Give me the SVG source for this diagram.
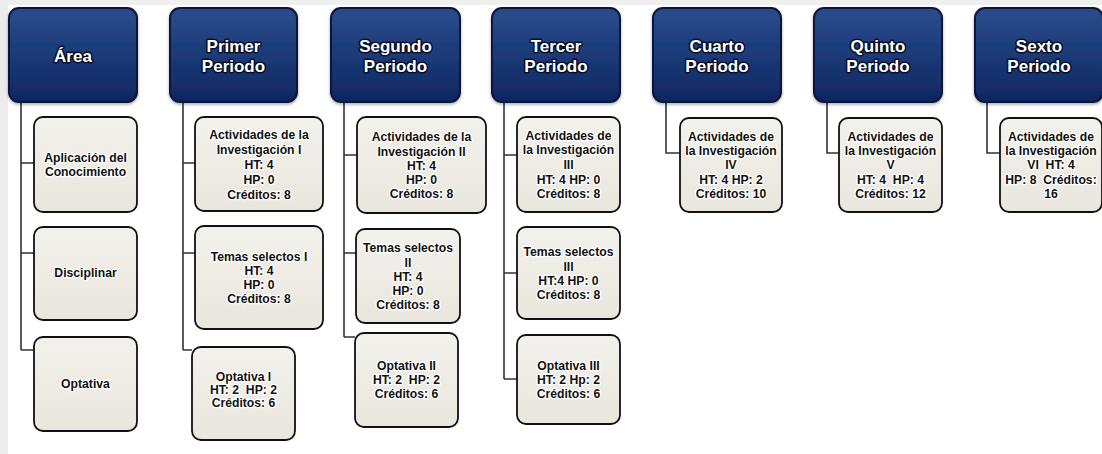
<svg xmlns="http://www.w3.org/2000/svg" width="1102" height="454" viewBox="0 0 1102 454">
<defs>
<linearGradient id="hg" x1="0" y1="0" x2="0" y2="1">
<stop offset="0" stop-color="#2b4c8c"/>
<stop offset="0.5" stop-color="#1b3a78"/>
<stop offset="1" stop-color="#0f2661"/>
</linearGradient>
<linearGradient id="cg" x1="0" y1="0" x2="0" y2="1">
<stop offset="0" stop-color="#f3f1ec"/>
<stop offset="1" stop-color="#e9e6dd"/>
</linearGradient>
<filter id="sh" x="-10%" y="-10%" width="120%" height="125%">
<feDropShadow dx="0" dy="1.5" stdDeviation="1.5" flood-color="#000" flood-opacity="0.35"/>
</filter>
</defs>
<style>
.hd{fill:url(#hg);stroke:#0a1838;stroke-width:2}
.ch{fill:url(#cg);stroke:#111;stroke-width:1.8}
.ht{font-family:"Liberation Sans",Arial,sans-serif;font-weight:bold;font-size:17px;fill:#fff;stroke:#050f28;stroke-width:3;stroke-linejoin:round;paint-order:stroke;text-anchor:middle}
.ct{font-family:"Liberation Sans",Arial,sans-serif;font-weight:bold;font-size:12.2px;fill:#111;stroke:#fff;stroke-width:2.6;stroke-linejoin:round;paint-order:stroke;text-anchor:middle;white-space:pre}
.cn{fill:none;stroke:#333;stroke-width:1.6}
</style>
<rect x="0" y="0" width="1102" height="454" fill="#ffffff"/>
<rect x="0" y="0" width="1102" height="5" fill="#efefef"/>
<rect x="0" y="0" width="8" height="454" fill="#ececec"/>

<g id="connectors">
<path class="cn" d="M21 102V350M21 163H34M21 253H34M21 350H34"/>
<path class="cn" d="M183 102V350M183 163H195M183 253H195M183 350H192"/>
<path class="cn" d="M344 102V337M344 155H357M344 253H356M344 337H355"/>
<path class="cn" d="M504 102V379M504 155H517M504 273H517M504 379H517"/>
<path class="cn" d="M666 102V153H680"/>
<path class="cn" d="M827 102V153H839"/>
<path class="cn" d="M987 102V153H1000"/>
</g>

<g id="h-area"><rect class="hd" filter="url(#sh)" x="9" y="8" width="128" height="94" rx="10"/><text class="ht" x="73" y="62">Área</text></g>
<g id="h-primer"><rect class="hd" filter="url(#sh)" x="170" y="8" width="127" height="94" rx="10"/><text class="ht" x="233.5" y="52">Primer</text><text class="ht" x="233.5" y="72">Periodo</text></g>
<g id="h-segundo"><rect class="hd" filter="url(#sh)" x="331" y="8" width="129" height="94" rx="10"/><text class="ht" x="395.5" y="52">Segundo</text><text class="ht" x="395.5" y="72">Periodo</text></g>
<g id="h-tercer"><rect class="hd" filter="url(#sh)" x="492" y="8" width="128" height="94" rx="10"/><text class="ht" x="556" y="52">Tercer</text><text class="ht" x="556" y="72">Periodo</text></g>
<g id="h-cuarto"><rect class="hd" filter="url(#sh)" x="653" y="8" width="128" height="94" rx="10"/><text class="ht" x="717" y="52">Cuarto</text><text class="ht" x="717" y="72">Periodo</text></g>
<g id="h-quinto"><rect class="hd" filter="url(#sh)" x="814" y="8" width="128" height="94" rx="10"/><text class="ht" x="878" y="52">Quinto</text><text class="ht" x="878" y="72">Periodo</text></g>
<g id="h-sexto"><rect class="hd" filter="url(#sh)" x="975" y="8" width="128" height="94" rx="10"/><text class="ht" x="1039" y="52">Sexto</text><text class="ht" x="1039" y="72">Periodo</text></g>

<g id="a1"><rect class="ch" x="34" y="117" width="103" height="95" rx="9"/><text class="ct" x="85.5" y="162">Aplicación del</text><text class="ct" x="85.5" y="176">Conocimiento</text></g>
<g id="a2"><rect class="ch" x="34" y="227" width="103" height="93" rx="9"/><text class="ct" x="85.5" y="277">Disciplinar</text></g>
<g id="a3"><rect class="ch" x="34" y="337" width="103" height="94" rx="9"/><text class="ct" x="85.5" y="388">Optativa</text></g>

<g id="p1a"><rect class="ch" x="195" y="117" width="128" height="94" rx="9"/><text class="ct" x="259" y="139">Actividades de la</text><text class="ct" x="259" y="154">Investigación I</text><text class="ct" x="259" y="169">HT: 4</text><text class="ct" x="259" y="184">HP: 0</text><text class="ct" x="259" y="199">Créditos: 8</text></g>
<g id="p1b"><rect class="ch" x="195" y="226" width="128" height="103" rx="9"/><text class="ct" x="259" y="261">Temas selectos I</text><text class="ct" x="259" y="275">HT: 4</text><text class="ct" x="259" y="289">HP: 0</text><text class="ct" x="259" y="303">Créditos: 8</text></g>
<g id="p1c"><rect class="ch" x="192" y="347" width="103" height="93" rx="9"/><text class="ct" x="243.5" y="381">Optativa I</text><text class="ct" x="243.5" y="394">HT: 2  HP: 2</text><text class="ct" x="243.5" y="407">Créditos: 6</text></g>

<g id="p2a"><rect class="ch" x="357" y="117" width="129" height="96" rx="9"/><text class="ct" x="421.5" y="141">Actividades de la</text><text class="ct" x="421.5" y="156">Investigación II</text><text class="ct" x="421.5" y="170">HT: 4</text><text class="ct" x="421.5" y="184">HP: 0</text><text class="ct" x="421.5" y="198">Créditos: 8</text></g>
<g id="p2b"><rect class="ch" x="356" y="229" width="104" height="94" rx="9"/><text class="ct" x="408" y="252">Temas selectos</text><text class="ct" x="408" y="267">II</text><text class="ct" x="408" y="281">HT: 4</text><text class="ct" x="408" y="295">HP: 0</text><text class="ct" x="408" y="309">Créditos: 8</text></g>
<g id="p2c"><rect class="ch" x="355" y="333" width="103" height="94" rx="9"/><text class="ct" x="406.5" y="370">Optativa II</text><text class="ct" x="406.5" y="384">HT: 2  HP: 2</text><text class="ct" x="406.5" y="398">Créditos: 6</text></g>

<g id="p3a"><rect class="ch" x="517" y="117" width="103" height="95" rx="9"/><text class="ct" x="568.5" y="140">Actividades de</text><text class="ct" x="568.5" y="154">la Investigación</text><text class="ct" x="568.5" y="169">III</text><text class="ct" x="568.5" y="184">HT: 4 HP: 0</text><text class="ct" x="568.5" y="198">Créditos: 8</text></g>
<g id="p3b"><rect class="ch" x="517" y="227" width="103" height="92" rx="9"/><text class="ct" x="568.5" y="256">Temas selectos</text><text class="ct" x="568.5" y="271">III</text><text class="ct" x="568.5" y="285">HT:4 HP: 0</text><text class="ct" x="568.5" y="299">Créditos: 8</text></g>
<g id="p3c"><rect class="ch" x="517" y="335" width="103" height="89" rx="9"/><text class="ct" x="568.5" y="370">Optativa III</text><text class="ct" x="568.5" y="384">HT: 2 Hp: 2</text><text class="ct" x="568.5" y="398">Créditos: 6</text></g>

<g id="p4"><rect class="ch" x="680" y="118" width="102" height="94" rx="9"/><text class="ct" x="731" y="141">Actividades de</text><text class="ct" x="731" y="155">la Investigación</text><text class="ct" x="731" y="169">IV</text><text class="ct" x="731" y="184">HT: 4 HP: 2</text><text class="ct" x="731" y="198">Créditos: 10</text></g>
<g id="p5"><rect class="ch" x="839" y="118" width="103" height="94" rx="9"/><text class="ct" x="890.5" y="141">Actividades de</text><text class="ct" x="890.5" y="155">la Investigación</text><text class="ct" x="890.5" y="169">V</text><text class="ct" x="890.5" y="184">HT: 4  HP: 4</text><text class="ct" x="890.5" y="198">Créditos: 12</text></g>
<g id="p6"><rect class="ch" x="1000" y="118" width="102" height="94" rx="9"/><text class="ct" x="1051" y="141">Actividades de</text><text class="ct" x="1051" y="155">la Investigación</text><text class="ct" x="1051" y="169">VI  HT: 4</text><text class="ct" x="1051" y="184">HP: 8  Créditos:</text><text class="ct" x="1051" y="198">16</text></g>
</svg>
